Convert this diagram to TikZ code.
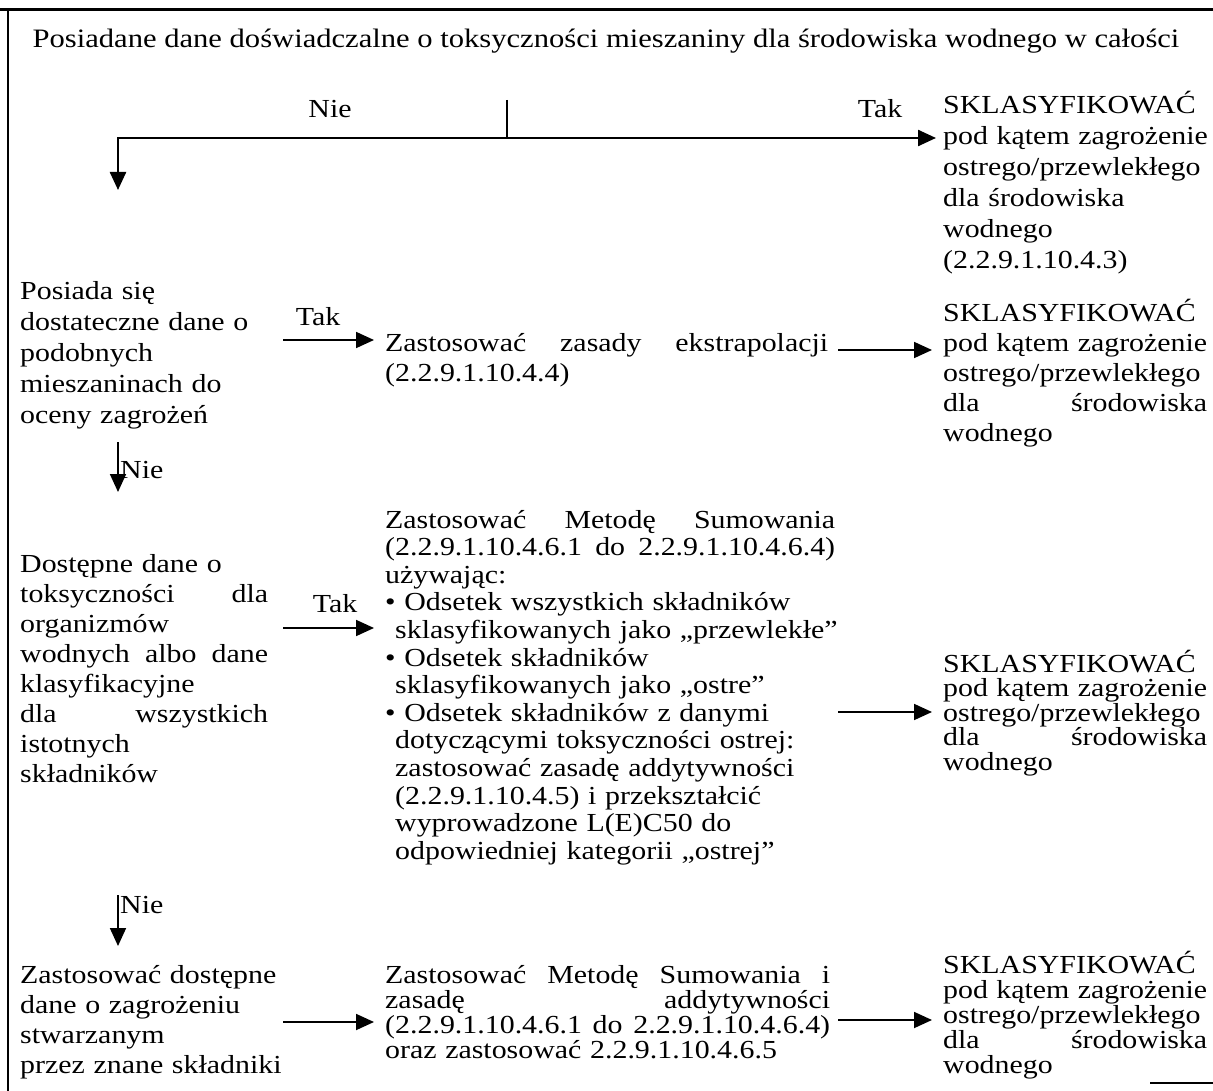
\documentclass[tikz,border=0pt]{standalone}
\usepackage{fontspec}
\setmainfont[FakeStretch=1.15]{Liberation Serif}
\usetikzlibrary{arrows.meta}
\newcommand\J[2]{{\spaceskip=0pt\xspaceskip=0pt\makebox[#1][s]{#2}}}
\tikzset{
  txt/.style={anchor=base west, inner sep=0pt, align=left, font=\fontsize{26}{30}\selectfont},
  lbl/.style={anchor=base, inner sep=0pt, font=\fontsize{26}{30}\selectfont},
  arr/.style={line width=1.8pt, -{Triangle[length=18pt,width=16pt]}},
  frame/.style={line width=2.5pt},
}
\begin{document}
\begin{tikzpicture}[x=1pt,y=-1pt]
\useasboundingbox (0,0) rectangle (1213,1091);
% frame
\coordinate (ftl) at (0,10);
\coordinate (ftr) at (1213,10);
\coordinate (fl1) at (8,10);
\coordinate (fl2) at (8,1091);
\coordinate (fb1) at (1150,1083);
\coordinate (fb2) at (1213,1083);
\draw[line width=3pt] (ftl) -- (ftr);
\draw[frame] (fl1) -- (fl2);
\draw[line width=2pt] (fb1) -- (fb2);

% title
\node[lbl, font=\fontsize{26.6}{30}\selectfont] (title) at (606,48) {Posiadane dane doświadczalne o toksyczności mieszaniny dla środowiska wodnego w całości};

% top split
\coordinate (t1) at (507,100);
\coordinate (t2) at (507,138);
\coordinate (t3) at (118,138);
\coordinate (t4) at (118,190);
\coordinate (t5) at (936,138);
\draw[line width=1.2pt] (t1) -- (t2);
\draw[arr, line width=2.4pt] (t2) -- (t3) -- (t4);
\draw[arr, line width=2.4pt] (t2) -- (t5);
\node[lbl] (nie1) at (330,118) {Nie};
\node[lbl] (tak1) at (880,118) {Tak};

% right block 1
\node[txt, text width=272pt, font=\fontsize{26}{31}\selectfont] (r1) at (943,114)
 {SKLASYFIKOWAĆ\\pod kątem zagrożenie\\ostrego/przewlekłego\\dla środowiska\\wodnego\\(2.2.9.1.10.4.3)};

% row 2
\node[txt, text width=300pt, font=\fontsize{26}{31}\selectfont] (l2) at (20,300)
 {Posiada się\\dostateczne dane o\\podobnych\\mieszaninach do\\oceny zagrożeń};
\node[txt, text width=500pt] (m2) at (385,352)
 {\J{443pt}{Zastosować zasady ekstrapolacji}\\(2.2.9.1.10.4.4)};
\node[txt, text width=272pt] (r2) at (943,322)
 {SKLASYFIKOWAĆ\\\J{264pt}{pod kątem zagrożenie}\\ostrego/przewlekłego\\\J{264pt}{dla środowiska}\\wodnego};
\coordinate (a2s) at (283,340);
\coordinate (a2e) at (374,340);
\coordinate (b2s) at (838,350);
\coordinate (b2e) at (932,350);
\draw[arr] (a2s) -- (a2e);
\draw[arr] (b2s) -- (b2e);
\node[lbl] (tak2) at (318,326) {Tak};

% down 2
\coordinate (d2s) at (118,442);
\coordinate (d2e) at (118,492);
\draw[arr] (d2s) -- (d2e);
\node[lbl, anchor=base west] (nie2) at (120,478) {Nie};

% row 3
\node[txt, text width=300pt] (l3) at (20,572)
 {Dostępne dane o\\\J{248pt}{toksyczności dla}\\organizmów\\\J{248pt}{wodnych albo dane}\\klasyfikacyjne\\\J{248pt}{dla wszystkich}\\istotnych\\składników};
\node[txt, text width=520pt, font=\fontsize{26}{27.6}\selectfont] (m3) at (385,528)
 {\J{450pt}{Zastosować Metodę Sumowania}\\
  \J{450pt}{(2.2.9.1.10.4.6.1 do 2.2.9.1.10.4.6.4)}\\
  używając:\\
  \textbullet\ Odsetek wszystkich składników\\
  \hspace*{10pt}sklasyfikowanych jako „przewlekłe”\\
  \textbullet\ Odsetek składników\\
  \hspace*{10pt}sklasyfikowanych jako „ostre”\\
  \textbullet\ Odsetek składników z danymi\\
  \hspace*{10pt}dotyczącymi toksyczności ostrej:\\
  \hspace*{10pt}zastosować zasadę addytywności\\
  \hspace*{10pt}(2.2.9.1.10.4.5) i przekształcić\\
  \hspace*{10pt}wyprowadzone L(E)C50 do\\
  \hspace*{10pt}odpowiedniej kategorii „ostrej”};
\node[txt, text width=272pt, font=\fontsize{26}{24.5}\selectfont] (r3) at (943,672)
 {SKLASYFIKOWAĆ\\\J{264pt}{pod kątem zagrożenie}\\ostrego/przewlekłego\\\J{264pt}{dla środowiska}\\wodnego};
\coordinate (a3s) at (283,628);
\coordinate (a3e) at (374,628);
\coordinate (b3s) at (838,712);
\coordinate (b3e) at (932,712);
\draw[arr] (a3s) -- (a3e);
\draw[arr] (b3s) -- (b3e);
\node[lbl] (tak3) at (335,612) {Tak};

% down 3
\coordinate (d3s) at (118,895);
\coordinate (d3e) at (118,946);
\draw[arr] (d3s) -- (d3e);
\node[lbl, anchor=base west] (nie3) at (120,913) {Nie};

% row 4
\node[txt, text width=300pt] (l4) at (20,983)
 {Zastosować dostępne\\dane o zagrożeniu\\stwarzanym\\przez znane składniki};
\node[txt, text width=500pt, font=\fontsize{26}{25}\selectfont] (m4) at (385,983)
 {\J{445pt}{Zastosować Metodę Sumowania i}\\\J{445pt}{zasadę addytywności}\\\J{445pt}{(2.2.9.1.10.4.6.1 do 2.2.9.1.10.4.6.4)}\\oraz zastosować 2.2.9.1.10.4.6.5};
\node[txt, text width=272pt, font=\fontsize{26}{25}\selectfont] (r4) at (943,973)
 {SKLASYFIKOWAĆ\\\J{264pt}{pod kątem zagrożenie}\\ostrego/przewlekłego\\\J{264pt}{dla środowiska}\\wodnego};
\coordinate (a4s) at (283,1022);
\coordinate (a4e) at (374,1022);
\coordinate (b4s) at (838,1020);
\coordinate (b4e) at (932,1020);
\draw[arr] (a4s) -- (a4e);
\draw[arr] (b4s) -- (b4e);
\end{tikzpicture}
\end{document}
